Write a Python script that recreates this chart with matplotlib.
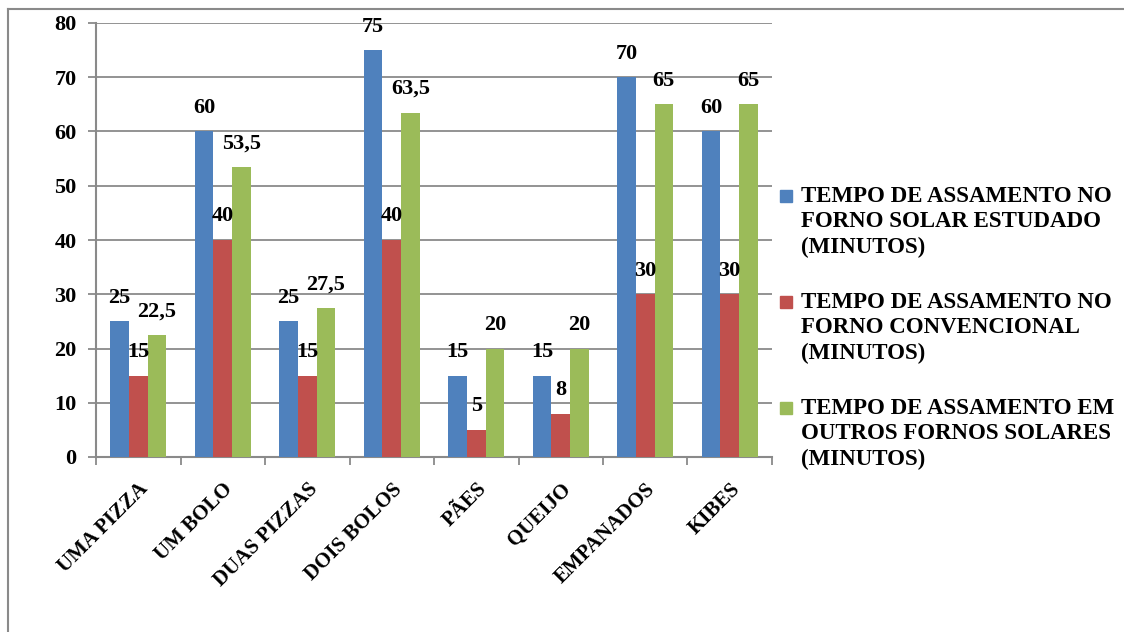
import numpy as np
import matplotlib.pyplot as plt
from matplotlib.patches import Rectangle
from matplotlib.lines import Line2D

# dados (tempo em minutos)
categorias = ['UMA PIZZA', 'UM BOLO', 'DUAS PIZZAS', 'DOIS BOLOS', 'PÃES',
              'QUEIJO', 'EMPANADOS', 'KIBES']
forno_solar = [25, 60, 25, 75, 15, 15, 70, 60]
forno_convencional = [15, 40, 15, 40, 5, 8, 30, 30]
outros_solares = [22.5, 53.5, 27.5, 63.5, 20, 20, 65, 65]

legendas = ['TEMPO DE ASSAMENTO NO\nFORNO SOLAR ESTUDADO\n(MINUTOS)',
            'TEMPO DE ASSAMENTO NO\nFORNO CONVENCIONAL\n(MINUTOS)',
            'TEMPO DE ASSAMENTO EM\nOUTROS FORNOS SOLARES\n(MINUTOS)']
cores = ['#4F81BD', '#C0504D', '#9BBB59']

plt.rcParams['font.family'] = ['Liberation Serif', 'DejaVu Serif']
plt.rcParams['font.weight'] = 'bold'

W, H = 1124, 632
fig = plt.figure(figsize=(W / 100, H / 100), dpi=100)
ax = fig.add_axes([96 / W, (H - 457) / H, (772 - 96) / W, (457 - 23) / H])

x = np.arange(len(categorias))
largura = 0.22
for i, (valores, cor) in enumerate(zip([forno_solar, forno_convencional, outros_solares], cores)):
    pos = x + (i - 1) * largura
    ax.bar(pos, valores, largura, color=cor, zorder=3)
    for xp, v in zip(pos, valores):
        txt = ('%g' % v).replace('.', ',')
        ax.annotate(txt, (xp, v), xytext=(0, 17), textcoords='offset points',
                    ha='center', va='center', fontsize=16, fontweight='bold', zorder=4)

ax.set_xlim(-0.5, len(categorias) - 0.5)
ax.set_ylim(0, 80)
ax.set_yticks(range(0, 81, 10))
ax.yaxis.grid(True, color='#8a8a8a', linewidth=1.3, zorder=0)

ax.set_xticks(x)
ax.set_xticklabels(categorias, rotation=45, ha='right', rotation_mode='anchor',
                   fontsize=15, fontweight='bold')
ax.set_xticks(np.arange(len(categorias) + 1) - 0.5, minor=True)
ax.tick_params(axis='x', which='major', length=0, pad=16)
ax.tick_params(axis='x', which='minor', length=6, width=1.3, color='#8a8a8a', direction='out')
ax.tick_params(axis='y', length=6, width=1.3, color='#8a8a8a', pad=8, labelsize=16)

for s in ['top', 'right']:
    ax.spines[s].set_visible(False)
for s in ['left', 'bottom']:
    ax.spines[s].set_color('#8a8a8a')
    ax.spines[s].set_linewidth(1.5)

# legenda manual (quadrado alinhado com a primeira linha)
for k, (rotulo, cor) in enumerate(zip(legendas, cores)):
    y_top = 186 + k * 106
    fig.patches.append(Rectangle((780 / W, 1 - (y_top + 16) / H), 12 / W, 12 / H,
                                 transform=fig.transFigure, color=cor))
    fig.text(801 / W, 1 - y_top / H, rotulo, ha='left', va='top',
             fontsize=16.5, fontweight='bold', linespacing=1.28)

# moldura do grafico (so topo e esquerda aparecem no recorte)
fig.add_artist(Line2D([8 / W, 1], [1 - 9 / H, 1 - 9 / H], transform=fig.transFigure,
                      color='#8a8a8a', linewidth=1.5))
fig.add_artist(Line2D([8 / W, 8 / W], [0, 1 - 9 / H], transform=fig.transFigure,
                      color='#8a8a8a', linewidth=1.5))

fig.savefig('out.png', dpi=100, facecolor='white')
